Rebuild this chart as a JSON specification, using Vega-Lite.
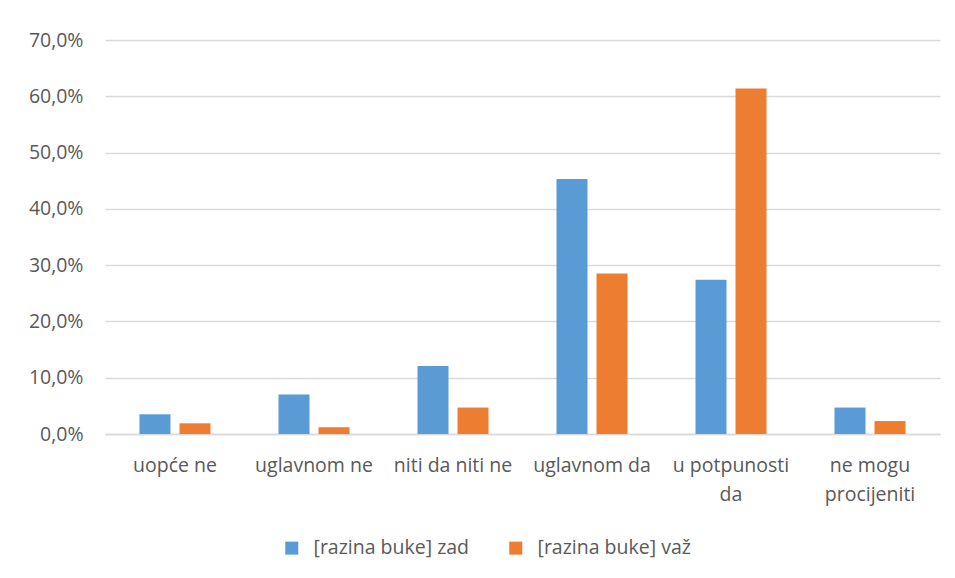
{
  "$schema": "https://vega.github.io/schema/vega-lite/v6.json",
  "width": 835,
  "height": 394,
  "autosize": {"type": "none"},
  "padding": {"left": 105, "top": 40, "right": 15, "bottom": 144},
  "background": "white",
  "config": {
    "font": "Open Sans",
    "view": {"stroke": null},
    "axis": {"labelColor": "#595959", "labelFont": "Open Sans", "labelFontSize": 19.5},
    "legend": {"labelColor": "#595959", "labelFont": "Open Sans", "labelFontSize": 19.5}
  },
  "data": {
    "values": [
      {"kategorija": "uopće ne", "serija": "[razina buke] zad", "udio": 0.035},
      {"kategorija": "uopće ne", "serija": "[razina buke] važ", "udio": 0.019},
      {"kategorija": "uglavnom ne", "serija": "[razina buke] zad", "udio": 0.070},
      {"kategorija": "uglavnom ne", "serija": "[razina buke] važ", "udio": 0.012},
      {"kategorija": "niti da niti ne", "serija": "[razina buke] zad", "udio": 0.121},
      {"kategorija": "niti da niti ne", "serija": "[razina buke] važ", "udio": 0.047},
      {"kategorija": "uglavnom da", "serija": "[razina buke] zad", "udio": 0.453},
      {"kategorija": "uglavnom da", "serija": "[razina buke] važ", "udio": 0.285},
      {"kategorija": "u potpunosti da", "serija": "[razina buke] zad", "udio": 0.274},
      {"kategorija": "u potpunosti da", "serija": "[razina buke] važ", "udio": 0.614},
      {"kategorija": "ne mogu procijeniti", "serija": "[razina buke] zad", "udio": 0.047},
      {"kategorija": "ne mogu procijeniti", "serija": "[razina buke] važ", "udio": 0.023}
    ]
  },
  "mark": {"type": "bar"},
  "encoding": {
    "x": {
      "field": "kategorija",
      "type": "nominal",
      "sort": null,
      "scale": {"paddingInner": 0.489, "paddingOuter": 0.248},
      "axis": {
        "title": null,
        "labelAngle": 0,
        "ticks": false,
        "domainColor": "#d9d9d9",
        "domainWidth": 1.5,
        "labelPadding": 22,
        "labelLineHeight": 29,
        "labelBaseline": "top",
        "labelLimit": 0,
        "labelExpr": "datum.label == 'u potpunosti da' ? ['u potpunosti', 'da'] : datum.label == 'ne mogu procijeniti' ? ['ne mogu', 'procijeniti'] : datum.label"
      }
    },
    "xOffset": {
      "field": "serija",
      "type": "nominal",
      "sort": ["[razina buke] zad", "[razina buke] važ"],
      "scale": {"paddingInner": 0.225, "paddingOuter": 0}
    },
    "y": {
      "field": "udio",
      "type": "quantitative",
      "scale": {"domain": [0, 0.7], "nice": false},
      "axis": {
        "title": null,
        "format": ".1%",
        "labelExpr": "replace(datum.label, '.', ',')",
        "values": [0, 0.1, 0.2, 0.3, 0.4, 0.5, 0.6, 0.7],
        "ticks": false,
        "domain": false,
        "gridColor": "#d9d9d9",
        "gridWidth": 1.5,
        "labelPadding": 22
      }
    },
    "color": {
      "field": "serija",
      "type": "nominal",
      "sort": ["[razina buke] zad", "[razina buke] važ"],
      "scale": {"domain": ["[razina buke] zad", "[razina buke] važ"], "range": ["#5b9bd5", "#ed7d31"]},
      "legend": {
        "title": null,
        "orient": "none",
        "legendX": 177,
        "legendY": 498,
        "direction": "horizontal",
        "symbolType": "square",
        "symbolSize": 169,
        "symbolStrokeWidth": 0,
        "labelOffset": 12,
        "columnPadding": 36
      }
    }
  }
}
